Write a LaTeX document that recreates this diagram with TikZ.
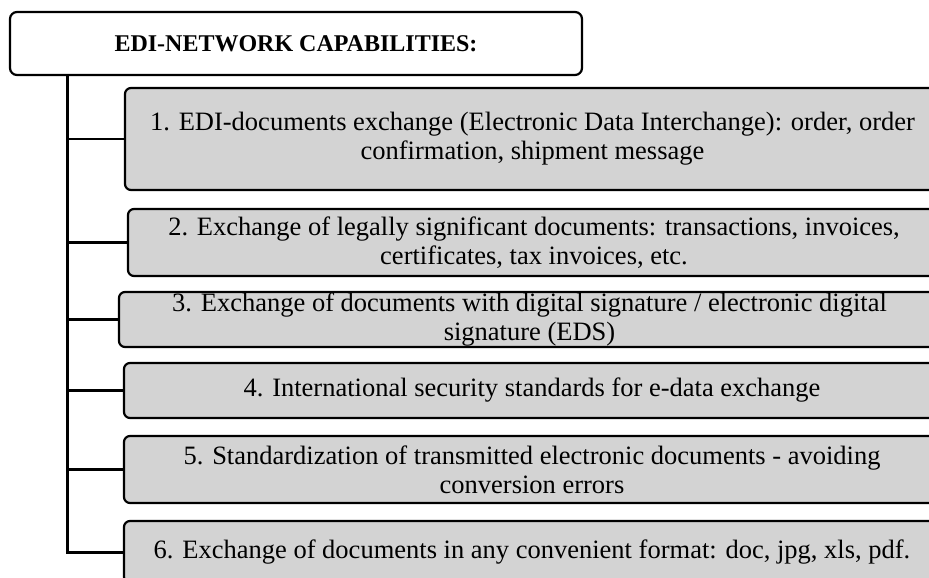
\documentclass[tikz,border=0pt]{standalone}
\usepackage{fontspec}
\setmainfont{Liberation Serif}
\definecolor{boxgray}{RGB}{211,211,211}

\begin{document}
\begin{tikzpicture}[x=1pt, y=-1pt, line width=2.2pt,
		    head/.style={draw=black, fill=white, rounded corners=7pt, inner sep=0pt,
		      font=\fontsize{24}{28}\selectfont\bfseries},
		    item/.style={draw=black, fill=boxgray, rounded corners=6pt, inner sep=0pt,
		      align=center, font=\fontsize{26.5}{29}\selectfont}]

\useasboundingbox (0,0) rectangle (929,578);

\node[head, minimum width=572pt, minimum height=63pt] (head) at (296,43.5) {EDI-NETWORK CAPABILITIES:};

\node[item, minimum width=815pt, minimum height=102pt] (i1) at (532.5,139)
    {1. EDI-documents exchange (Electronic Data Interchange): order, order\\confirmation, shipment message};
\node[item, minimum width=812pt, minimum height=67pt] (i2) at (534,242.5)
    {2. Exchange of legally significant documents: transactions, invoices,\\certificates, tax invoices, etc.};
\node[item, minimum width=821pt, minimum height=55pt] (i3) at (529.5,319.5)
    {3. Exchange of documents with digital signature / electronic digital\\signature (EDS)};
\node[item, minimum width=816pt, minimum height=55pt] (i4) at (532,390.5)
    {4. International security standards for e-data exchange};
\node[item, minimum width=816pt, minimum height=67pt] (i5) at (532,469.5)
    {5. Standardization of transmitted electronic documents - avoiding\\conversion errors};
\node[item, minimum width=816pt, minimum height=62pt] (i6) at (532,552)
    {6. Exchange of documents in any convenient format: doc, jpg, xls, pdf.};

\coordinate (trunk) at (head.south -| 67,0);
\foreach \n in {1,...,5}
    \draw (trunk |- i\n.west) -- (i\n.west);
\draw[line width=3pt] (trunk) |- (i6.west);
\end{tikzpicture}
\end{document}
